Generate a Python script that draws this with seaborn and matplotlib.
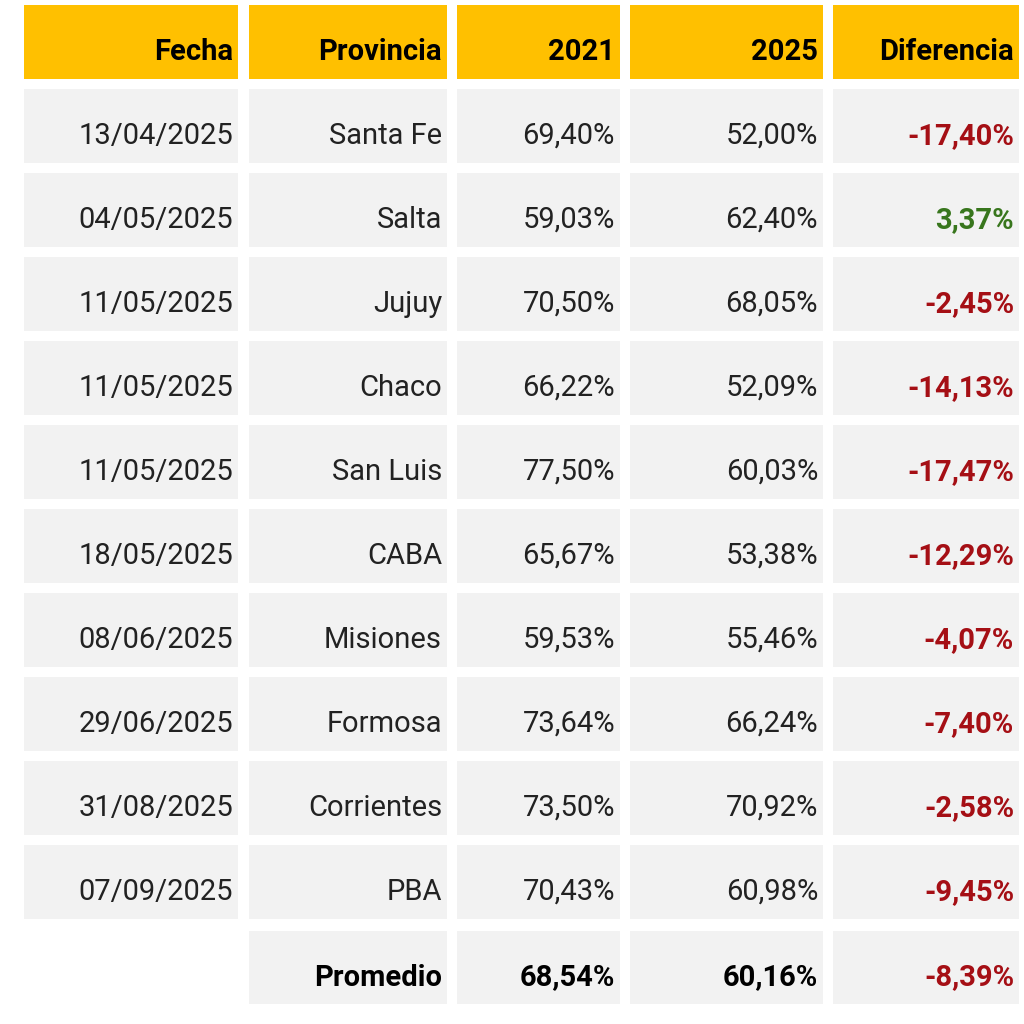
import matplotlib
matplotlib.use("Agg")
import matplotlib.pyplot as plt
from matplotlib.patches import Rectangle
import seaborn as sns

headers = ["Fecha", "Provincia", "2021", "2025", "Diferencia"]
fechas = ["13/04/2025", "04/05/2025", "11/05/2025", "11/05/2025", "11/05/2025",
          "18/05/2025", "08/06/2025", "29/06/2025", "31/08/2025", "07/09/2025"]
provincias = ["Santa Fe", "Salta", "Jujuy", "Chaco", "San Luis", "CABA",
              "Misiones", "Formosa", "Corrientes", "PBA"]
v2021 = [69.40, 59.03, 70.50, 66.22, 77.50, 65.67, 59.53, 73.64, 73.50, 70.43]
v2025 = [52.00, 62.40, 68.05, 52.09, 60.03, 53.38, 55.46, 66.24, 70.92, 60.98]
dif = [-17.40, 3.37, -2.45, -14.13, -17.47, -12.29, -4.07, -7.40, -2.58, -9.45]
prom = ["68,54%", "60,16%", "-8,39%"]

sns.set_theme(style="white")
fig = plt.figure(figsize=(10.24, 10.24), dpi=100)
ax = fig.add_axes([0, 0, 1, 1])
ax.set_xlim(0, 1024); ax.set_ylim(1024, 0); ax.axis("off")

cols = [(24, 238), (249, 447), (457, 620), (630, 823), (833, 1019)]
HEAD = "#FFC000"; CELL = "#F2F2F2"; RED = "#A50F15"; GREEN = "#38761D"
FS = 21
FONT = "Roboto"

def pct(v):
    return f"{v:.2f}".replace(".", ",") + "%"

def cell(c, y0, y1, text, color, bold=False, fill=CELL):
    x0, x1 = cols[c]
    ax.add_patch(Rectangle((x0, y0), x1 - x0, y1 - y0, color=fill, lw=0))
    if text:
        ax.text(x1 - 5, (y0 + y1) / 2 + 10, text, ha="right", va="center",
                fontsize=FS, family=FONT, color=color,
                fontweight="bold" if bold else "normal")

for c, h in enumerate(headers):
    cell(c, 5, 79, h, "black", bold=True, fill=HEAD)

for i in range(len(fechas)):
    y0 = 89 + 84 * i; y1 = y0 + 74
    cell(0, y0, y1, fechas[i], "#222222")
    cell(1, y0, y1, provincias[i], "#222222")
    cell(2, y0, y1, pct(v2021[i]), "#222222")
    cell(3, y0, y1, pct(v2025[i]), "#222222")
    cell(4, y0, y1, pct(dif[i]), GREEN if dif[i] > 0 else RED, bold=True)

y0 = 931; y1 = 1004
cell(1, y0, y1, "Promedio", "black", bold=True)
cell(2, y0, y1, prom[0], "black", bold=True)
cell(3, y0, y1, prom[1], "black", bold=True)
cell(4, y0, y1, prom[2], RED, bold=True)

fig.savefig("out.png", dpi=100, facecolor="white")
